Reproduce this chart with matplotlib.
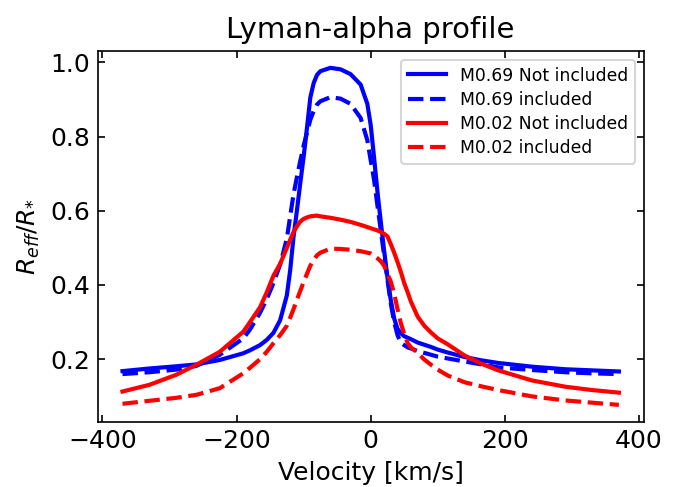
import matplotlib
matplotlib.use("Agg")
import matplotlib.pyplot as plt

# velocity grid (km/s) and profiles
velocity = [-370, -330, -290, -260, -225, -190, -180, -165, -155, -145,
            -135, -125, -120, -115, -110, -105, -100, -95, -90, -85,
            -80, -75, -60, -45, -30, -15, -5, 0, 5, 10,
            15, 20, 25, 30, 35, 40, 45, 50, 55, 60,
            70, 80, 90, 100, 115, 140, 165, 190, 240, 290,
            330, 370]

m069_not = [0.168, 0.175, 0.181, 0.186, 0.198, 0.216, 0.224, 0.238, 0.252, 0.271,
            0.305, 0.372, 0.440, 0.530, 0.600, 0.674, 0.745, 0.823, 0.905, 0.944,
            0.966, 0.976, 0.985, 0.981, 0.968, 0.940, 0.888, 0.831, 0.744, 0.653,
            0.571, 0.493, 0.420, 0.359, 0.310, 0.282, 0.270, 0.262, 0.258, 0.254,
            0.245, 0.239, 0.233, 0.226, 0.218, 0.206, 0.197, 0.190, 0.180, 0.173,
            0.170, 0.167]

m069_inc = [0.160, 0.165, 0.172, 0.182, 0.212, 0.256, 0.280, 0.325, 0.362, 0.405,
            0.455, 0.525, 0.585, 0.645, 0.690, 0.734, 0.775, 0.810, 0.845, 0.869,
            0.886, 0.895, 0.906, 0.902, 0.888, 0.850, 0.790, 0.736, 0.684, 0.615,
            0.548, 0.480, 0.415, 0.350, 0.300, 0.265, 0.244, 0.238, 0.232, 0.229,
            0.222, 0.217, 0.212, 0.207, 0.202, 0.194, 0.186, 0.178, 0.171, 0.165,
            0.162, 0.160]

m002_not = [0.113, 0.131, 0.158, 0.185, 0.220, 0.274, 0.300, 0.340, 0.380, 0.425,
            0.457, 0.500, 0.522, 0.543, 0.558, 0.571, 0.578, 0.582, 0.585, 0.586,
            0.587, 0.585, 0.581, 0.576, 0.570, 0.562, 0.556, 0.553, 0.550, 0.547,
            0.543, 0.538, 0.531, 0.510, 0.487, 0.462, 0.435, 0.405, 0.381, 0.355,
            0.315, 0.290, 0.272, 0.256, 0.240, 0.210, 0.188, 0.170, 0.143, 0.126,
            0.117, 0.110]

m002_inc = [0.080, 0.088, 0.096, 0.104, 0.122, 0.162, 0.177, 0.200, 0.220, 0.243,
            0.265, 0.290, 0.312, 0.335, 0.360, 0.384, 0.408, 0.430, 0.452, 0.467,
            0.480, 0.487, 0.498, 0.497, 0.495, 0.491, 0.487, 0.485, 0.479, 0.472,
            0.464, 0.452, 0.430, 0.409, 0.377, 0.335, 0.297, 0.268, 0.244, 0.232,
            0.217, 0.199, 0.185, 0.172, 0.156, 0.138, 0.127, 0.117, 0.100, 0.089,
            0.083, 0.077]

fig = plt.figure(figsize=(676 / 150, 487 / 150), dpi=150)
ax = fig.add_axes([0.1445, 0.134, 0.8077, 0.7613])

ax.plot(velocity, m069_not, color='blue', lw=2, label='M0.69 Not included')
ax.plot(velocity, m069_inc, color='blue', lw=2, ls='--', label='M0.69 included')
ax.plot(velocity, m002_not, color='red', lw=2, label='M0.02 Not included')
ax.plot(velocity, m002_inc, color='red', lw=2, ls='--', label='M0.02 included')

ax.tick_params(direction='in', top=True, right=True, labelsize=12)
ax.set_xlabel('Velocity [km/s]', fontsize=12)
ax.set_ylabel(r'$R_{eff}/R_{*}$', fontsize=12)
ax.set_title('Lyman-alpha profile', fontsize=14)
ax.legend(loc='upper right', fontsize=8.3, labelspacing=0.35, handlelength=2.2)

fig.savefig('out.png', dpi=150)
